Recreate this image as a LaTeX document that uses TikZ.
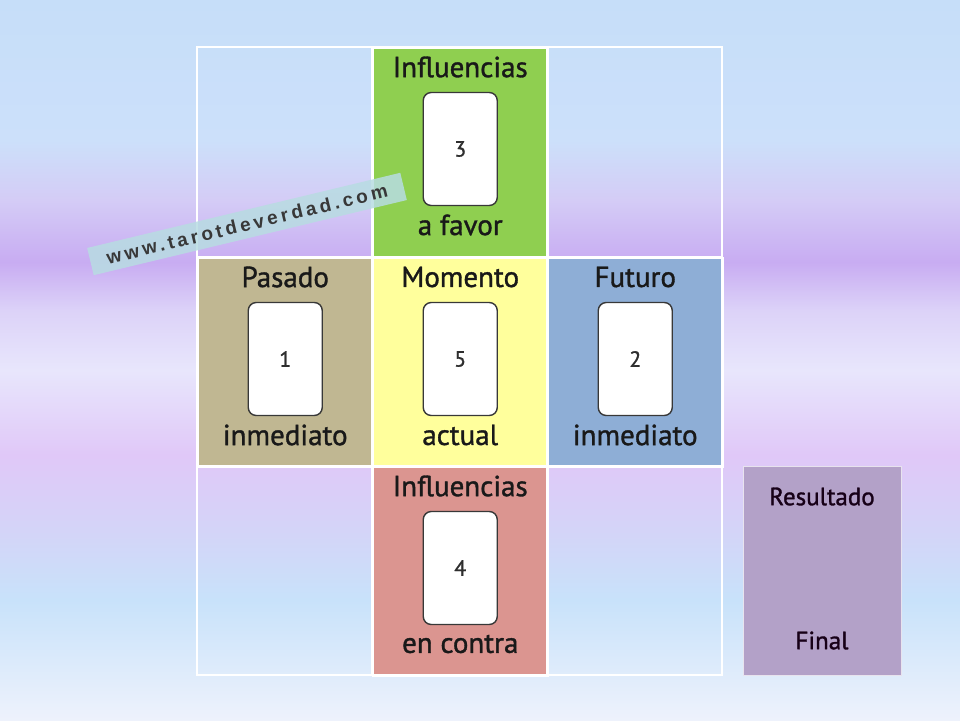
\documentclass[tikz,border=0pt]{standalone}
\usepackage{fontspec}
\setmainfont{PT Sans}[FakeBold=1.2]
\newfontfamily\numfont{PT Sans}[FakeBold=1]
\newfontfamily\wmfont[LetterSpace=18]{Liberation Sans}
\begin{document}
\begin{tikzpicture}[x=1pt,y=-1pt,
  cellbox/.style={draw=white,line width=1.5pt,minimum width=175pt,minimum height=209pt,inner sep=0pt,anchor=north west},
  cardbox/.style={draw=black!78,fill=white,line width=1.4pt,rounded corners=8pt,minimum width=74pt,minimum height=113pt,inner sep=0pt,font=\numfont\fontsize{22}{22}\selectfont,text=black!82},
  title/.style={font=\fontsize{29}{29}\selectfont,text=black!90,inner sep=0pt},
  restext/.style={font=\fontsize{25}{25}\selectfont,text=black!82!violet,inner sep=0pt}]
\definecolor{cgreen}{HTML}{8FCF50}
\definecolor{ctan}{HTML}{C0B792}
\definecolor{cyellow}{HTML}{FFFF9C}
\definecolor{cblue}{HTML}{8EAED6}
\definecolor{cpink}{HTML}{DB9590}
\definecolor{cres}{HTML}{B3A1C8}
\definecolor{b0}{HTML}{C6DEF9}
\definecolor{b1}{HTML}{CCE0FA}
\definecolor{b2}{HTML}{D4CCF6}
\definecolor{b3}{HTML}{C8ACF2}
\definecolor{b4}{HTML}{DCD2F8}
\definecolor{b5}{HTML}{E8E6FC}
\definecolor{b6}{HTML}{E0C8F8}
\definecolor{b7}{HTML}{D4D4F8}
\definecolor{b8}{HTML}{C8E2FA}
\definecolor{b9}{HTML}{EEF2FC}
\definecolor{wmcol}{HTML}{B8DCE2}
\useasboundingbox (0,0) rectangle (960,720);
% background gradient bands
\shade[top color=b0,bottom color=b1] (0,-1) rectangle (960,140);
\shade[top color=b1,bottom color=b2] (0,140) rectangle (960,200);
\shade[top color=b2,bottom color=b3] (0,200) rectangle (960,262);
\shade[top color=b3,bottom color=b4] (0,262) rectangle (960,310);
\shade[top color=b4,bottom color=b5] (0,310) rectangle (960,370);
\shade[top color=b5,bottom color=b6] (0,370) rectangle (960,455);
\shade[top color=b6,bottom color=b7] (0,455) rectangle (960,530);
\shade[top color=b7,bottom color=b8] (0,530) rectangle (960,600);
\shade[top color=b8,bottom color=b9] (0,600) rectangle (960,721);
% coloured cells
\node[cellbox,fill=cgreen] (cTop) at (372,47) {};
\node[cellbox,fill=ctan] (cLeft) at (197,257) {};
\node[cellbox,fill=cyellow] (cMid) at (372,257) {};
\node[cellbox,fill=cblue] (cRight) at (547,257) {};
\node[cellbox,fill=cpink] (cBot) at (372,466) {};
% grid
\draw[white,line width=1.5pt] (197,47) rectangle (722,675)
  (372,47) -- (372,675) (547,47) -- (547,675)
  (197,257) -- (722,257) (197,466) -- (722,466);
% cards and labels
\foreach \c/\n in {cTop/3,cLeft/1,cMid/5,cRight/2,cBot/4}{
  \node[cardbox] (card\n) at ([yshift=-102pt]\c.north) {\n};
}
\node[title] (t3) at ([yshift=-20pt]cTop.north) {Influencias};
\node[title] (b3) at ([yshift=-178pt]cTop.north) {a favor};
\node[title] (t1) at ([yshift=-20pt]cLeft.north) {Pasado};
\node[title] (b1) at ([yshift=-178pt]cLeft.north) {inmediato};
\node[title] (t5) at ([yshift=-20pt]cMid.north) {Momento};
\node[title] (b5) at ([yshift=-178pt]cMid.north) {actual};
\node[title] (t2) at ([yshift=-20pt]cRight.north) {Futuro};
\node[title] (b2) at ([yshift=-178pt]cRight.north) {inmediato};
\node[title] (t4) at ([yshift=-20pt]cBot.north) {Influencias};
\node[title] (b4) at ([yshift=-178pt]cBot.north) {en contra};
% result box
\node[fill=cres,draw=white!70!cres,line width=1pt,minimum width=158pt,minimum height=209pt,inner sep=0pt] (res) at (822,570.5) {};
\node[restext] (rt) at ([yshift=-31pt]res.north) {Resultado};
\node[restext] (rb) at ([yshift=-175pt]res.north) {Final};
% watermark
\node[fill=wmcol,fill opacity=0.85,text opacity=1,rotate=13.5,minimum width=322pt,minimum height=28pt,inner sep=0pt,
  font=\wmfont\bfseries\fontsize{19}{19}\selectfont,text=black!78] (wm) at (247,224) {www.tarotdeverdad.com};
\end{tikzpicture}
\end{document}
